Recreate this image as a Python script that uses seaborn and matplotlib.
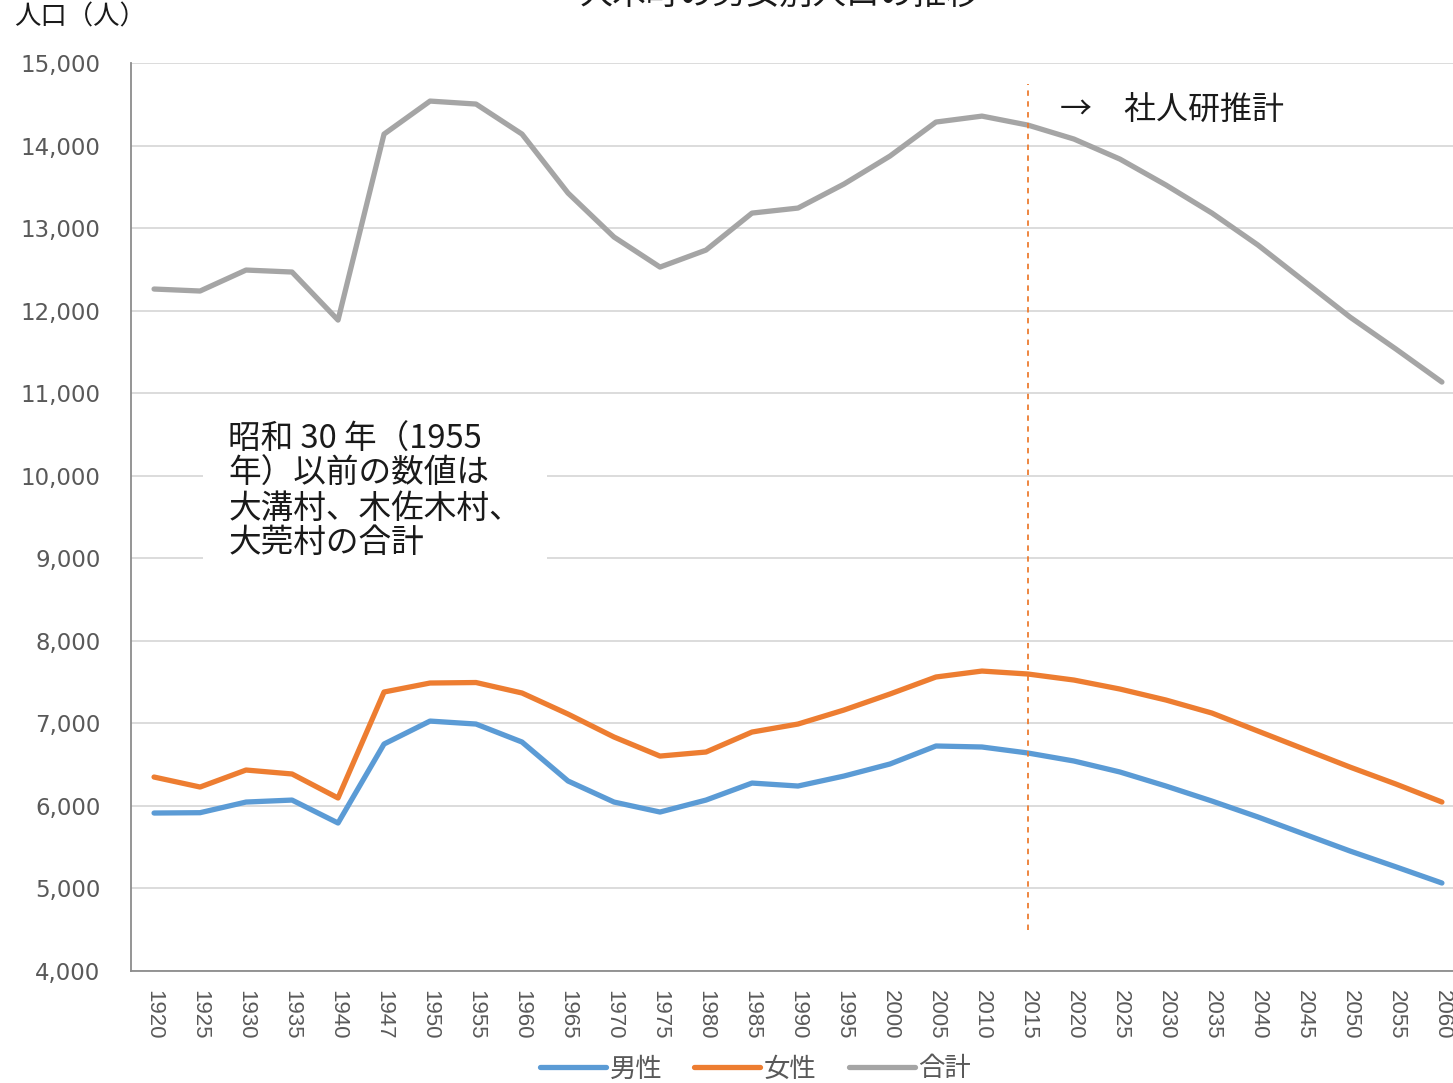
import pandas as pd
import numpy as np
import matplotlib.pyplot as plt
import seaborn as sns

# years on the x axis (categorical)
years = ["1920", "1925", "1930", "1935", "1940", "1947", "1950", "1955", "1960",
         "1965", "1970", "1975", "1980", "1985", "1990", "1995", "2000", "2005",
         "2010", "2015", "2020", "2025", "2030", "2035", "2040", "2045", "2050",
         "2055", "2060"]

male = [5914, 5918, 6047, 6071, 5793, 6750, 7028, 6992, 6774, 6302, 6047, 5926,
        6071, 6277, 6241, 6362, 6508, 6726, 6714, 6641, 6544, 6411, 6241, 6059,
        5866, 5660, 5454, 5262, 5066]
female = [6350, 6229, 6435, 6387, 6096, 7380, 7489, 7495, 7368, 7113, 6835, 6604,
          6653, 6895, 6992, 7162, 7356, 7562, 7634, 7598, 7525, 7416, 7283, 7125,
          6907, 6689, 6471, 6265, 6047]
total = [12262, 12238, 12492, 12468, 11886, 14139, 14539, 14503, 14139, 13425,
         12892, 12528, 12734, 13182, 13243, 13534, 13873, 14285, 14357, 14248,
         14079, 13836, 13522, 13182, 12795, 12359, 11923, 11535, 11135]

series_names = ["男性", "女性", "合計"]
colors = ["#5B9BD5", "#ED7D31", "#A5A5A5"]

df = pd.DataFrame({"年": years, "男性": male, "女性": female, "合計": total})
long_df = df.melt(id_vars="年", var_name="区分", value_name="人口")

sns.set_style("white")
plt.rcParams['font.family'] = ['Noto Sans CJK JP', 'DejaVu Sans']

fig = plt.figure(figsize=(14.53, 10.83), dpi=100)
ax = fig.add_axes([0.0902, 0.1034, 0.918, 0.8384])

sns.lineplot(data=long_df, x="年", y="人口", hue="区分", hue_order=series_names,
             palette=colors, linewidth=3.8, sort=False, legend=False, ax=ax)

ax.set_xlim(-0.5, len(years) - 0.5)
ax.set_ylim(4000, 15000)
ax.set_yticks(np.arange(4000, 15001, 1000))
ax.set_yticklabels([f"{v:,}" for v in range(4000, 15001, 1000)],
                   fontsize=16.5, color="#595959", family="DejaVu Sans")
ax.set_xticks(range(len(years)))
ax.set_xticklabels(years, rotation=-90, fontsize=16, color="#595959",
                   family="Liberation Sans")
ax.set_xlabel("")
ax.set_ylabel("")

ax.grid(axis="y", color="#D9D9D9", linewidth=1.3)
ax.set_axisbelow(True)
for s in ["top", "right"]:
    ax.spines[s].set_visible(False)
for s in ["left", "bottom"]:
    ax.spines[s].set_color("#8C8C8C")
    ax.spines[s].set_linewidth(1.3)
ax.tick_params(axis="y", length=0, pad=22)
ax.tick_params(axis="x", length=6, color="#8C8C8C", direction="out", pad=8)

# estimate boundary
ax.vlines(years.index("2015"), 4500, 14750, colors="#ED7D31",
          linestyles=(0, (3, 3)), linewidth=1.3)
ax.text(years.index("2015") + 0.7, 14430, "→　社人研推計", fontsize=23,
        va="center", ha="left", color="#1a1a1a")

ax.text(1.61, 10630, "昭和 30 年（1955\n年）以前の数値は\n大溝村、木佐木村、\n大莞村の合計",
        fontsize=23.5, va="top", ha="left", color="#1a1a1a", linespacing=1.1,
        bbox=dict(facecolor="white", edgecolor="none", pad=18))

fig.text(0.01, 1 - 17 / 1083, "人口（人）", fontsize=19, va="center", ha="left",
         color="#1a1a1a")
# title (cut off at the top edge in the original)
fig.text(0.537, 1 - 4 / 1083, "大木町の男女別人口の推移", fontsize=24,
         va="baseline", ha="center", color="#1a1a1a")

handles = ax.get_lines()[:3]
fig.legend(handles, series_names, loc="center", bbox_to_anchor=(0.52, 0.013),
           ncol=3, frameon=False, fontsize=19, handlelength=2.5,
           columnspacing=1.2, handletextpad=0.15, labelcolor="#595959")

fig.savefig("out.png", dpi=100)
